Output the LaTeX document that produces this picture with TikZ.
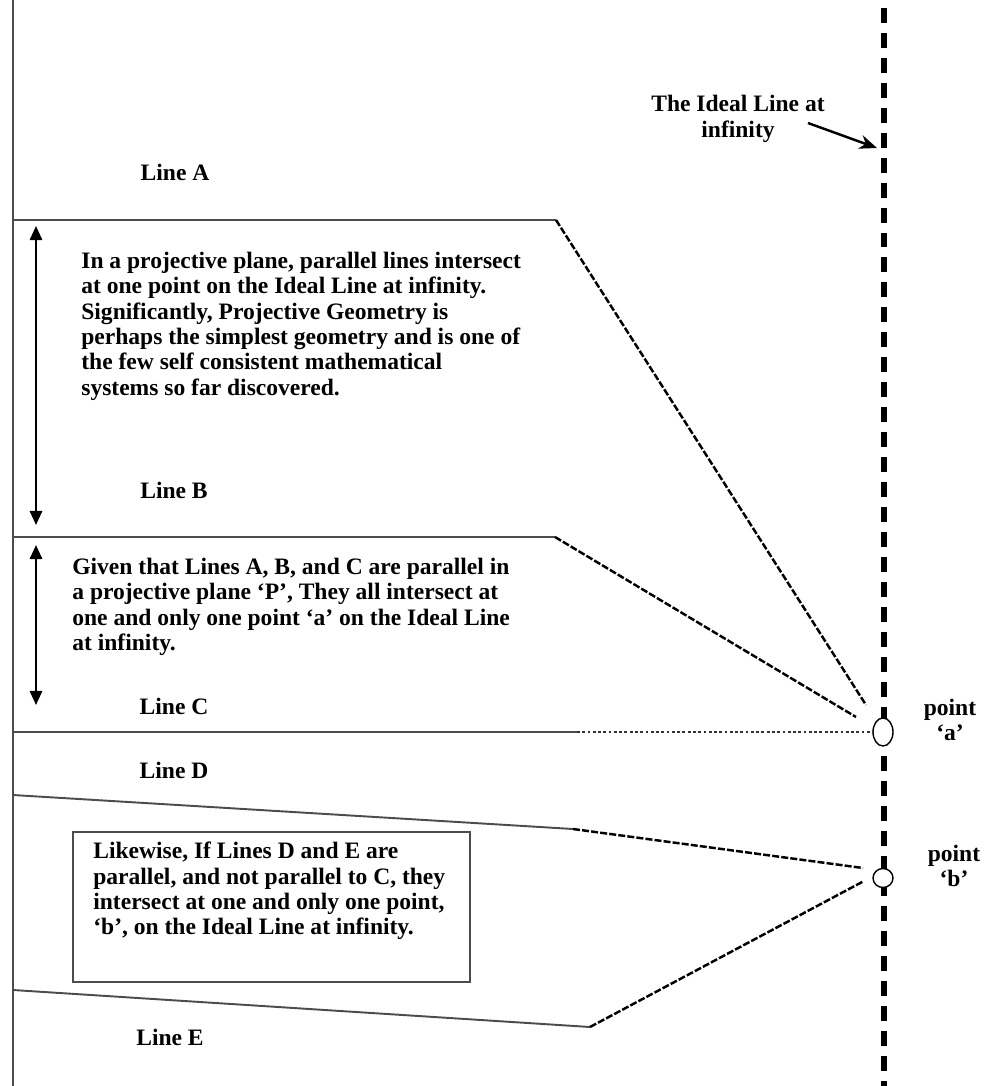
\documentclass[tikz,border=0pt]{standalone}
\usepackage{fontspec}
\setmainfont{Liberation Serif}
\usetikzlibrary{calc, positioning, shapes, arrows.meta}
\def\planedrawcolor{black!70}
\def\planelinewidth{1.1pt}
\def\meetlinewidth{1.4pt}
\def\idealdrawcolor{black}
\def\idealwidth{3.4pt}
\def\pointwidth{0.4cm}
\def\textsize{\fontsize{13.4}{14.4}\selectfont\bfseries}
\tikzset{
	% labels
	line_label/.style={
		font=\textsize,
		inner sep=0pt,
	},
	% text blocks
	body_text/.style={
		font=\textsize,
		align=left,
		anchor=north west,
		inner sep=0pt,
	},
	% the parallel lines in the plane
	plane_line/.style={
		draw=\planedrawcolor,
		line width=\planelinewidth,
	},
	% run of a line towards the ideal line
	meet_line/.style={
		draw=black,
		line width=\meetlinewidth,
		dash pattern=on 4pt off 1.2pt,
	},
	meet_dots/.style={
		draw=black!80,
		line width=0.8pt,
		dash pattern=on 1.6pt off 1.4pt,
	},
	% the ideal line at infinity
	ideal_line/.style={
		draw=\idealdrawcolor,
		line width=\idealwidth,
		dash pattern=on 8.5pt off 5.7pt,
	},
	% meeting points
	meet_point/.style={
		draw,
		thick,
		fill=white,
		ellipse,
		inner sep=0pt,
		minimum width=\pointwidth,
	},
	% frame of the last note
	note_frame/.style={
		draw=\planedrawcolor,
		line width=\planelinewidth,
	},
	% arrows
	span_arrow/.style={
		line width=1.3pt,
		{Triangle[length=8pt, width=7pt]}-{Triangle[length=8pt, width=7pt]},
	},
	pointer/.style={
		line width=1.4pt,
		-{Stealth[length=10pt, width=8pt]},
	}
}
\begin{document}
\begin{tikzpicture}[x=0.02cm, y=-0.02cm]
	\useasboundingbox (0,0) rectangle (985,1086);
	% left edge and ideal line
	\coordinate (edge_top) at (13,0);
	\coordinate (edge_bottom) at (13,1086);
	\draw[plane_line] (edge_top) -- (edge_bottom);
	\coordinate (ideal_top) at (884,8);
	\coordinate (ideal_bottom) at (884,1086);
	\draw[ideal_line] (ideal_top) -- (ideal_bottom);
	%
	\node[line_label, align=center] (ideal_label) at (738,119) {The Ideal Line at\\infinity};
	\coordinate (ideal_hit) at (877,148);
	\draw[pointer] (808,123) -- (ideal_hit);
	%
	% meeting points on the ideal line
	\node[meet_point, minimum height=0.56cm] (point_a) at (883,732) {};
	\node[meet_point, minimum height=0.38cm] (point_b) at (883,878) {};
	\node[line_label, align=center] (point_a_label) at (950,720) {point\\‘a’};
	\node[line_label, align=center] (point_b_label) at (954,866) {point\\‘b’};
	%
	% line A
	\coordinate (a_start) at (13,220);
	\coordinate (a_bend) at (556,220);
	\coordinate (a_end) at (866,705);
	\draw[plane_line] (a_start) -- (a_bend);
	\draw[meet_line] (a_bend) -- (a_end);
	\node[line_label] (line_a) at (175,172) {Line A};
	%
	% line B
	\coordinate (b_start) at (13,537);
	\coordinate (b_bend) at (555,537);
	\coordinate (b_end) at (856,717);
	\draw[plane_line] (b_start) -- (b_bend);
	\draw[meet_line] (b_bend) -- (b_end);
	\node[line_label] (line_b) at (174,490) {Line B};
	%
	% line C
	\coordinate (c_start) at (13,732);
	\coordinate (c_bend) at (577,732);
	\draw[plane_line] (c_start) -- (c_bend);
	\draw[meet_dots] (c_bend) -- (point_a.west);
	\node[line_label] (line_c) at (174,706) {Line C};
	%
	% line D
	\coordinate (d_start) at (13,795);
	\coordinate (d_bend) at (573,829);
	\coordinate (d_end) at (863,868);
	\draw[plane_line] (d_start) -- (d_bend);
	\draw[meet_line] (d_bend) -- (d_end);
	\node[line_label] (line_d) at (174,770) {Line D};
	%
	% line E
	\coordinate (e_start) at (13,990);
	\coordinate (e_bend) at (590,1027);
	\coordinate (e_end) at (864,881);
	\draw[plane_line] (e_start) -- (e_bend);
	\draw[meet_line] (e_bend) -- (e_end);
	\node[line_label] (line_e) at (170,1037) {Line E};
	%
	% span arrows
	\coordinate (span1_top) at (36,226);
	\coordinate (span1_bottom) at (36,525);
	\draw[span_arrow] (span1_top) -- (span1_bottom);
	\coordinate (span2_top) at (36,545);
	\coordinate (span2_bottom) at (36,705);
	\draw[span_arrow] (span2_top) -- (span2_bottom);
	%
	% notes
	\node[body_text] (note_projective) at (81,252) {In a projective plane, parallel lines intersect\\at one point on the Ideal Line at infinity.\\Significantly, Projective Geometry is\\perhaps the simplest geometry and is one of\\the few self consistent mathematical\\systems so far discovered.};
	%
	\node[body_text] (note_given) at (72,558) {Given that Lines A, B, and C are parallel in\\a projective plane ‘P’, They all intersect at\\one and only one point ‘a’ on the Ideal Line\\at infinity.};
	%
	\node[body_text] (note_likewise) at (93,842) {Likewise, If Lines D and E are\\parallel, and not parallel to C, they\\intersect at one and only one point,\\‘b’, on the Ideal Line at infinity.};
	\draw[note_frame] (73,832) rectangle (470,982);
	%
\end{tikzpicture}
\end{document}
